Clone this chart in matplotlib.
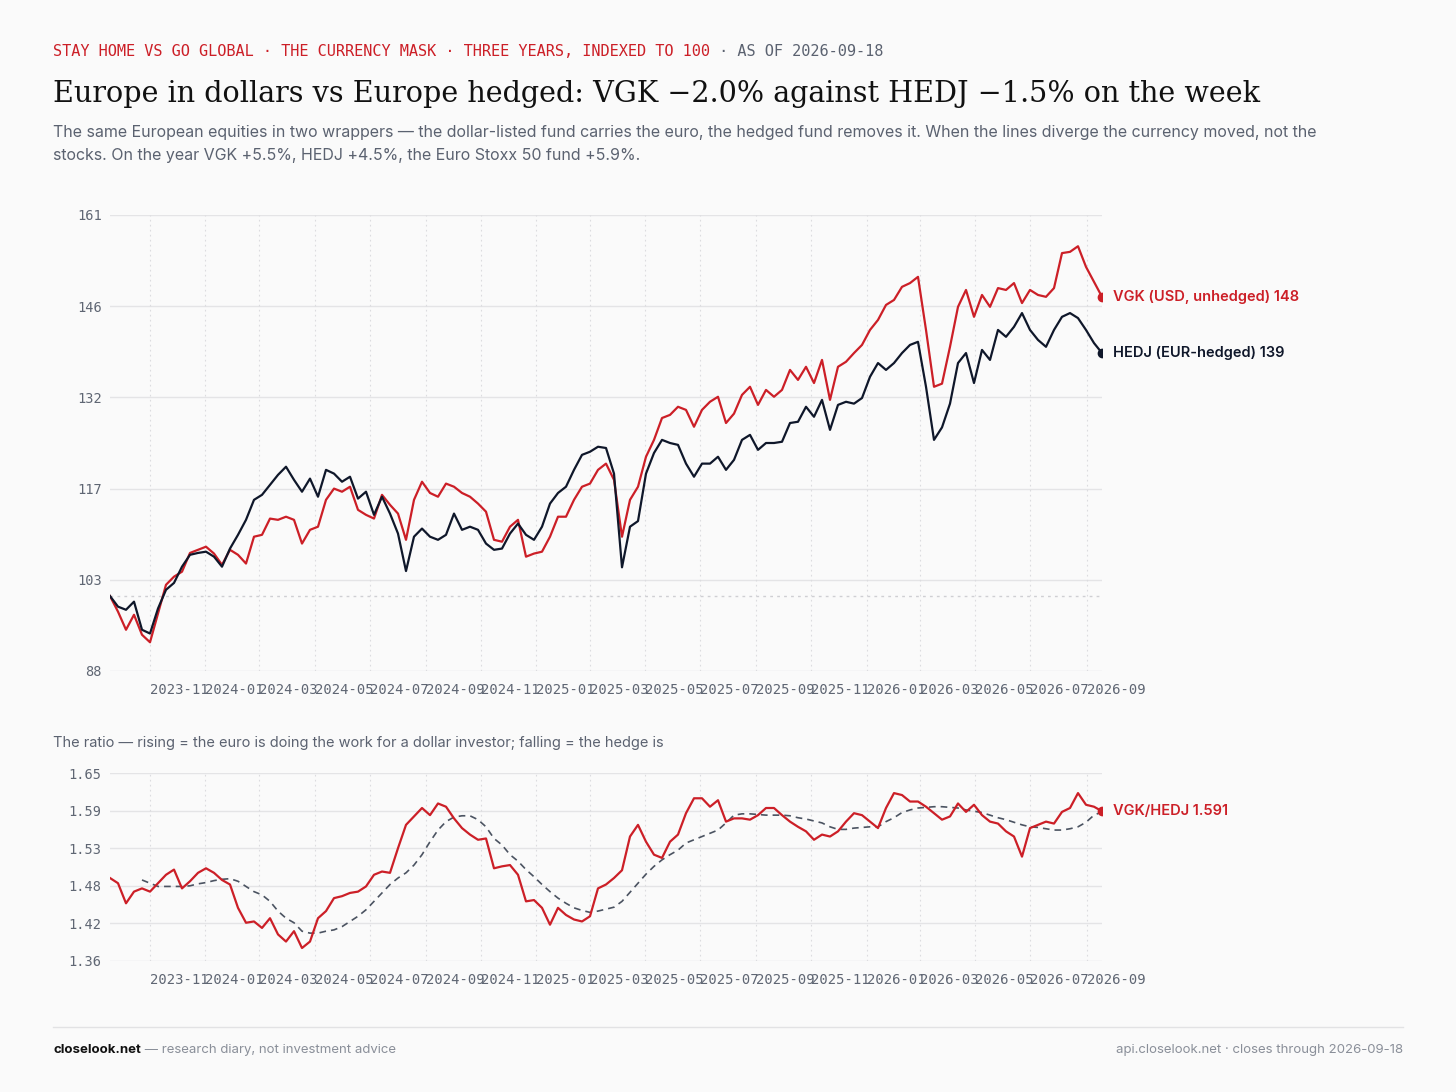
import matplotlib
matplotlib.use("Agg")
import matplotlib.pyplot as plt
from matplotlib.lines import Line2D
import numpy as np
import pandas as pd

# --- data (125 evenly spaced closes, 2023-09-18 .. 2026-09-18) ---
start_date = "2023-09-18"
end_date = "2026-09-18"

vgk = [
    100.0, 97.5, 94.6, 97.0, 93.8, 92.6, 97.2, 101.8, 103.1, 103.9,
    106.9, 107.4, 107.9, 106.8, 105.0, 107.4, 106.6, 105.2, 109.5, 109.8,
    112.4, 112.2, 112.7, 112.2, 108.4, 110.6, 111.1, 115.4, 117.2, 116.7,
    117.5, 113.8, 113.0, 112.4, 116.2, 114.6, 113.2, 109.0, 115.4, 118.3,
    116.5, 115.9, 118.0, 117.5, 116.5, 115.9, 114.8, 113.5, 109.0, 108.7,
    111.1, 112.2, 106.3, 106.8, 107.1, 109.5, 112.7, 112.7, 115.4, 117.5,
    118.0, 120.2, 121.2, 118.6, 109.5, 115.4, 117.5, 122.3, 125.0, 128.5,
    129.0, 130.3, 129.8, 127.1, 129.8, 131.1, 131.9, 127.7, 129.2, 132.2,
    133.5, 130.6, 133.0, 131.9, 133.0, 136.2, 134.6, 136.7, 134.1, 137.8,
    131.4, 136.7, 137.5, 138.9, 140.2, 142.6, 144.2, 146.6, 147.4, 149.5,
    150.1, 151.1, 142.6, 133.5, 134.0, 139.9, 146.3, 149.0, 144.7, 148.2,
    146.3, 149.3, 149.0, 150.1, 146.9, 149.0, 148.2, 147.9, 149.3, 154.9,
    155.1, 156.0, 152.7, 150.3, 147.9,
]

hedj = [
    100.0, 98.3, 97.8, 99.1, 94.6, 94.0, 98.0, 101.0, 102.1, 104.7,
    106.6, 106.9, 107.1, 106.3, 104.7, 107.6, 109.8, 112.2, 115.4, 116.2,
    117.8, 119.4, 120.7, 118.6, 116.7, 118.8, 115.9, 120.2, 119.6, 118.3,
    119.1, 115.6, 116.7, 113.0, 115.9, 113.2, 110.0, 104.0, 109.5, 110.8,
    109.5, 109.0, 109.8, 113.2, 110.6, 111.1, 110.6, 108.4, 107.4, 107.6,
    110.0, 111.6, 109.8, 109.0, 111.1, 114.8, 116.5, 117.5, 120.2, 122.6,
    123.1, 123.9, 123.7, 119.6, 104.6, 111.1, 112.0, 119.6, 122.9, 125.0,
    124.5, 124.2, 121.2, 119.1, 121.2, 121.2, 122.3, 120.2, 121.8, 125.0,
    125.8, 123.4, 124.5, 124.5, 124.7, 127.7, 127.9, 130.3, 128.7, 131.4,
    126.6, 130.6, 131.1, 130.8, 131.7, 135.1, 137.3, 136.2, 137.3, 138.9,
    140.2, 140.7, 133.5, 125.0, 127.0, 130.8, 137.3, 138.9, 134.1, 139.4,
    137.8, 142.6, 141.5, 143.1, 145.3, 142.6, 141.0, 139.9, 142.6, 144.7,
    145.3, 144.5, 142.6, 140.5, 138.9,
]

ratio = [
    1.488, 1.480, 1.449, 1.467, 1.472, 1.467, 1.480, 1.493, 1.501, 1.472,
    1.483, 1.496, 1.503, 1.496, 1.485, 1.478, 1.442, 1.419, 1.421, 1.411,
    1.426, 1.401, 1.390, 1.406, 1.380, 1.390, 1.426, 1.437, 1.457, 1.460,
    1.465, 1.467, 1.475, 1.493, 1.498, 1.496, 1.534, 1.570, 1.583, 1.596,
    1.585, 1.603, 1.598, 1.580, 1.565, 1.555, 1.547, 1.549, 1.503, 1.506,
    1.508, 1.493, 1.452, 1.454, 1.442, 1.416, 1.442, 1.431, 1.424, 1.421,
    1.429, 1.472, 1.478, 1.488, 1.500, 1.552, 1.570, 1.544, 1.524, 1.519,
    1.544, 1.555, 1.588, 1.611, 1.611, 1.598, 1.608, 1.575, 1.580, 1.580,
    1.578, 1.585, 1.596, 1.596, 1.585, 1.575, 1.567, 1.560, 1.547, 1.555,
    1.552, 1.560, 1.575, 1.588, 1.585, 1.575, 1.565, 1.596, 1.619, 1.616,
    1.606, 1.606, 1.598, 1.588, 1.578, 1.583, 1.603, 1.590, 1.601, 1.585,
    1.575, 1.572, 1.560, 1.552, 1.521, 1.565, 1.570, 1.575, 1.572, 1.590,
    1.596, 1.619, 1.601, 1.598, 1.591,
]

# smoothed ratio (dashed line), empty at the start
ratio_ma = [
    None, None, None, None, 1.485, 1.480, 1.475, 1.475, 1.475, 1.475,
    1.476, 1.479, 1.481, 1.484, 1.486, 1.487, 1.483, 1.475, 1.467, 1.462,
    1.452, 1.437, 1.426, 1.419, 1.406, 1.403, 1.403, 1.406, 1.408, 1.413,
    1.421, 1.429, 1.439, 1.452, 1.465, 1.478, 1.488, 1.496, 1.508, 1.524,
    1.544, 1.562, 1.575, 1.582, 1.584, 1.584, 1.578, 1.567, 1.549, 1.539,
    1.524, 1.514, 1.501, 1.490, 1.478, 1.467, 1.457, 1.449, 1.442, 1.438,
    1.435, 1.437, 1.440, 1.443, 1.452, 1.466, 1.480, 1.494, 1.506, 1.516,
    1.524, 1.531, 1.542, 1.547, 1.552, 1.557, 1.562, 1.573, 1.585, 1.587,
    1.587, 1.586, 1.585, 1.585, 1.585, 1.584, 1.581, 1.579, 1.576, 1.573,
    1.567, 1.563, 1.563, 1.565, 1.566, 1.567, 1.567, 1.575, 1.581, 1.589,
    1.593, 1.596, 1.597, 1.598, 1.598, 1.597, 1.596, 1.593, 1.591, 1.589,
    1.585, 1.581, 1.578, 1.574, 1.570, 1.567, 1.566, 1.564, 1.562, 1.562,
    1.564, 1.567, 1.574, 1.585, 1.590,
]

vgk_label = "VGK (USD, unhedged) 148"
hedj_label = "HEDJ (EUR-hedged) 139"
ratio_label = "VGK/HEDJ 1.591"

# --- style ---
BG = "#fafafa"
RED = "#cc1f27"
NAVY = "#0f172a"
GREY = "#5b6270"
TICK = "#5f6673"
GRID = "#e4e4e6"
MONO = "DejaVu Sans Mono"
SANS = "Inter"

W, H = 1456, 1092
fig = plt.figure(figsize=(W / 100, H / 100), dpi=100, facecolor=BG)


def fx(px):
    return px / W


def fy(py):
    return 1 - py / H


dates = pd.date_range(start_date, end_date, periods=len(vgk))
ma = np.array([np.nan if v is None else v for v in ratio_ma])
tick_dates = pd.date_range("2023-11-01", "2026-09-01", freq="2MS")
tick_labels = [d.strftime("%Y-%m") for d in tick_dates]


def style_axes(ax, lo, hi, fmt):
    ax.set_facecolor(BG)
    for s in ax.spines.values():
        s.set_visible(False)
    yt = np.linspace(lo, hi, 6)
    ax.set_ylim(lo, hi)
    ax.set_yticks(yt)
    ax.set_yticklabels([fmt(v) for v in yt], family=MONO, fontsize=9.8, color=TICK)
    ax.set_xlim(dates[0], dates[-1])
    ax.set_xticks(tick_dates)
    ax.set_xticklabels(tick_labels, ha="left", family=MONO, fontsize=10, color=TICK)
    ax.tick_params(axis="y", length=0, pad=6)
    ax.tick_params(axis="x", length=0, pad=9)
    for v in yt:
        ax.axhline(v, color=GRID, lw=1.0, zorder=0)
    for d in tick_dates:
        ax.axvline(d, color="#dcdcdf", lw=0.8, ls=(0, (1.5, 3)), zorder=0)


# --- top panel: indexed prices ---
ax1 = fig.add_axes([fx(110), fy(671), (1102 - 110) / W, (671 - 215) / H])
style_axes(ax1, 88, 161, lambda v: f"{v:.0f}")
ax1.axhline(100, color="#cfcfd3", lw=1.0, ls=(0, (2, 3)), zorder=0)
ax1.plot(dates, vgk, color=RED, lw=1.6, zorder=3)
ax1.plot(dates, hedj, color=NAVY, lw=1.6, zorder=4)
ax1.plot(dates[-1], vgk[-1], "o", color=RED, ms=6, zorder=5)
ax1.plot(dates[-1], hedj[-1], "o", color=NAVY, ms=6, zorder=5)
ax1.annotate(vgk_label, (dates[-1], vgk[-1]), xytext=(8, 0), textcoords="offset points",
             va="center", ha="left", color=RED, fontsize=10.5, family=SANS,
             fontweight="semibold", annotation_clip=False)
ax1.annotate(hedj_label, (dates[-1], hedj[-1]), xytext=(8, 0), textcoords="offset points",
             va="center", ha="left", color=NAVY, fontsize=10.5, family=SANS,
             fontweight="semibold", annotation_clip=False)

# --- bottom panel: ratio ---
ax2 = fig.add_axes([fx(110), fy(961), (1102 - 110) / W, (961 - 773) / H])
style_axes(ax2, 1.36, 1.65, lambda v: f"{v:.2f}")
ax2.plot(dates, ma, color="#4b5361", lw=1.2, ls=(0, (4, 3)), zorder=3)
ax2.plot(dates, ratio, color=RED, lw=1.6, zorder=4)
ax2.plot(dates[-1], ratio[-1], "o", color=RED, ms=6, zorder=5)
ax2.annotate(ratio_label, (dates[-1], ratio[-1]), xytext=(8, 0), textcoords="offset points",
             va="center", ha="left", color=RED, fontsize=10.5, family=SANS,
             fontweight="semibold", annotation_clip=False)

# --- header texts ---
kicker = fig.text(fx(53), fy(52), "STAY HOME VS GO GLOBAL · THE CURRENCY MASK · THREE YEARS, INDEXED TO 100",
                  family=MONO, fontsize=11, color=RED, va="center", ha="left")
fig.canvas.draw()
bb = kicker.get_window_extent()
fig.text(bb.x1 / W, fy(52), " · AS OF 2026-09-18", family=MONO, fontsize=11,
         color=GREY, va="center", ha="left")

fig.text(fx(53), fy(94), "Europe in dollars vs Europe hedged: VGK \u22122.0% against HEDJ \u22121.5% on the week",
         family="DejaVu Serif", fontsize=20.6, color="#111111", va="center", ha="left")
fig.text(fx(53), fy(132),
         "The same European equities in two wrappers \u2014 the dollar-listed fund carries the euro, "
         "the hedged fund removes it. When the lines diverge the currency moved, not the",
         family=SANS, fontsize=11.5, color=GREY, va="center", ha="left")
fig.text(fx(53), fy(156), "stocks. On the year VGK +5.5%, HEDJ +4.5%, the Euro Stoxx 50 fund +5.9%.",
         family=SANS, fontsize=11.5, color=GREY, va="center", ha="left")

fig.text(fx(53), fy(743),
         "The ratio \u2014 rising = the euro is doing the work for a dollar investor; falling = the hedge is",
         family=SANS, fontsize=10.5, color=GREY, va="center", ha="left")

# --- footer ---
fig.add_artist(Line2D([fx(53), fx(1403)], [fy(1027), fy(1027)], color="#e2e2e4", lw=1.0))
brand = fig.text(fx(53), fy(1050), "closelook.net", family=SANS, fontsize=9.5,
                 fontweight="bold", color="#111111", va="center", ha="left")
fig.canvas.draw()
bb = brand.get_window_extent()
fig.text(bb.x1 / W, fy(1050), " \u2014 research diary, not investment advice", family=SANS,
         fontsize=9.5, color="#8a8f99", va="center", ha="left")
fig.text(fx(1403), fy(1050), "api.closelook.net \u00b7 closes through 2026-09-18", family=SANS,
         fontsize=9.5, color="#8a8f99", va="center", ha="right")

fig.savefig("out.png", dpi=100, facecolor=BG)
